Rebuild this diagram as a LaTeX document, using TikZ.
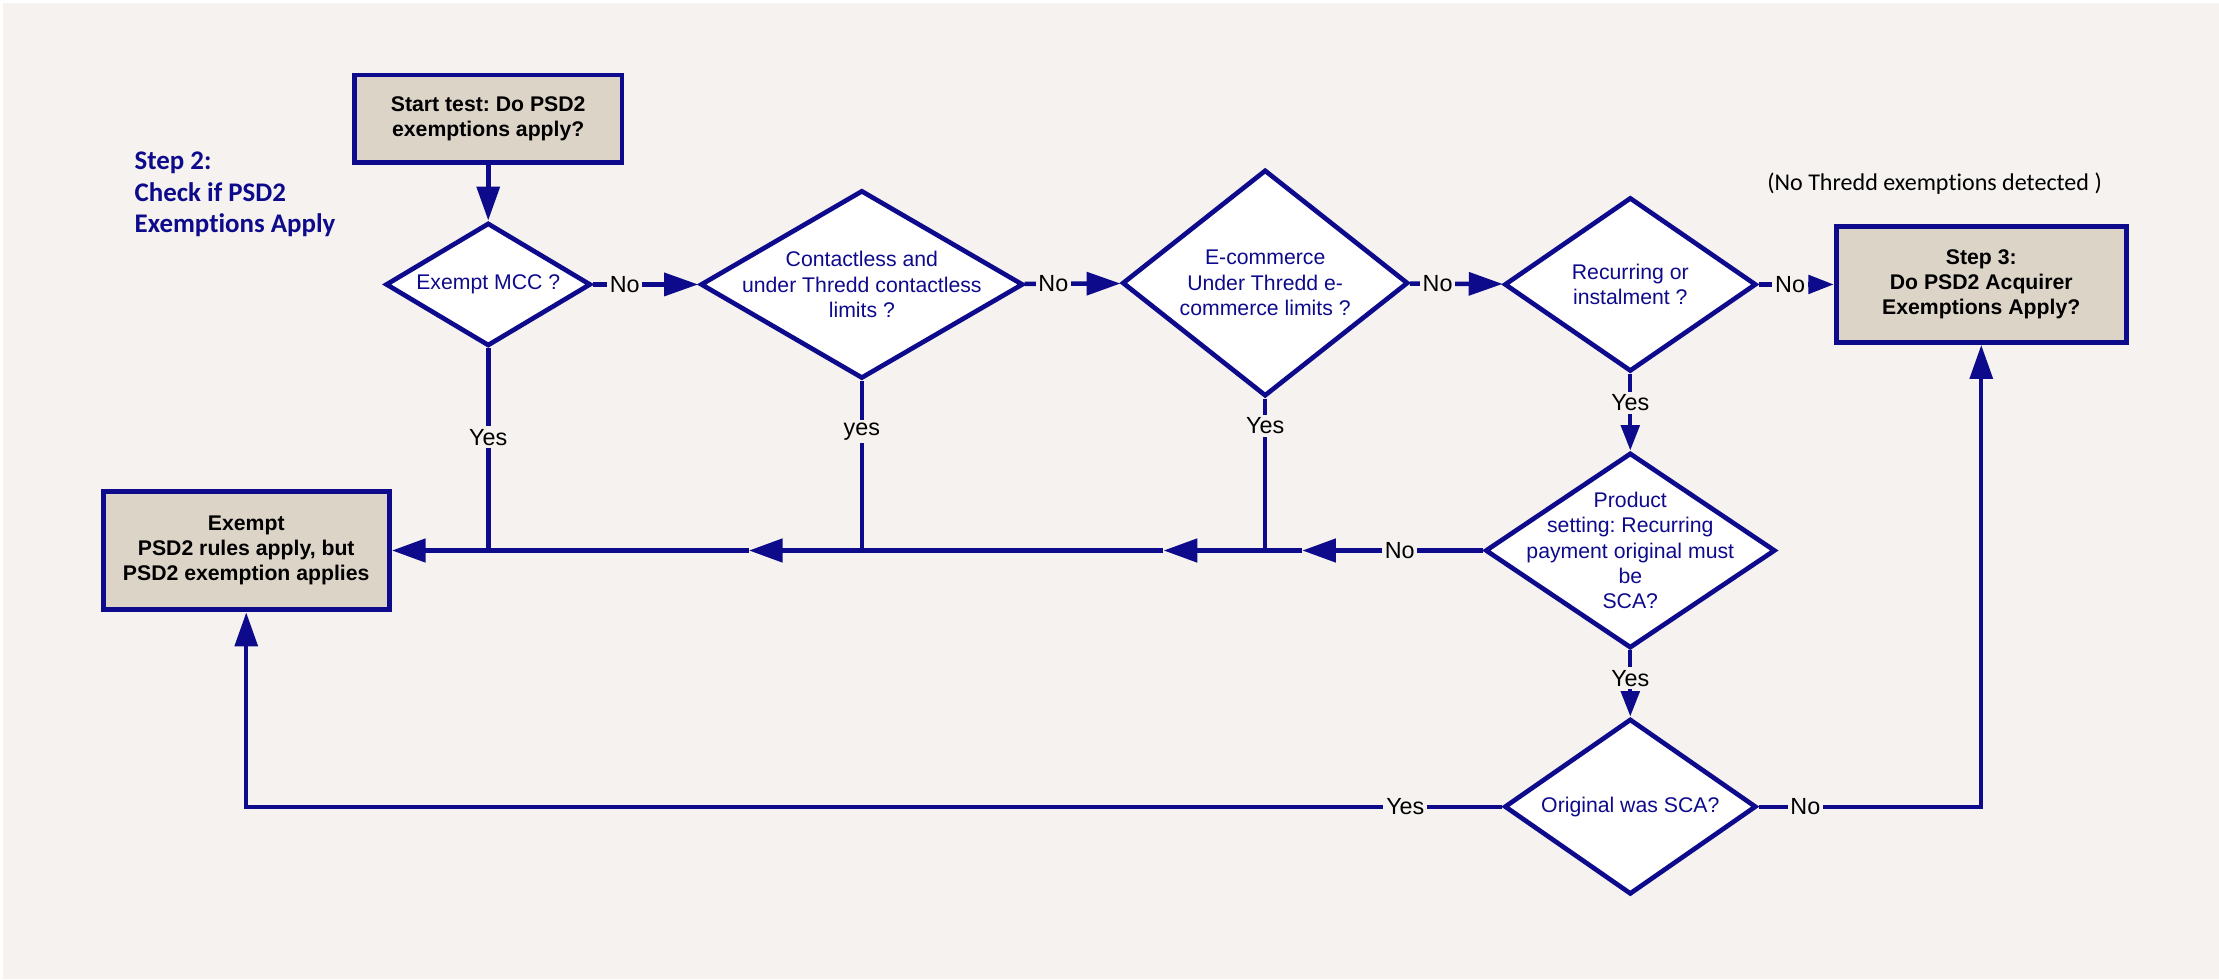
\documentclass[tikz,border=0pt]{standalone}
\usepackage{fontspec}
\setmainfont{Liberation Sans}
\newfontfamily\califont[Ligatures=NoCommon]{Carlito}
\usepackage{tikz}
\usetikzlibrary{shapes.geometric,arrows.meta,positioning}
\definecolor{navy}{RGB}{14,10,140}
\definecolor{boxfill}{RGB}{221,212,200}
\definecolor{bgcol}{RGB}{245,242,239}
\frenchspacing

\begin{document}
\begin{tikzpicture}[x=1pt, y=-1pt,
	box node/.style={rectangle,draw=navy,fill=boxfill,line width=3.5pt,inner sep=0pt,
		align=center,font=\fontsize{15}{17.8}\selectfont\bfseries},
	decision node/.style={diamond,draw=navy,fill=white,line width=3.3pt,inner sep=0pt},
	dtext/.style={align=center,text=navy,font=\fontsize{15}{17.9}\selectfont},
	flow/.style={draw=navy,line width=3.2pt,-{Triangle[length=24pt,width=16pt]}},
	main flow/.style={flow,line width=4pt},
	small flow/.style={draw=navy,line width=3pt,-{Triangle[length=18pt,width=13pt]}},
	yes line/.style={draw=navy,line width=3.2pt},
	lbl/.style={fill=bgcol,inner sep=2pt,font=\fontsize{16.5}{18}\selectfont}]
	
	\useasboundingbox (0,0) rectangle (1568,692);
	\fill[white] (0,0) rectangle (1568,692);
	\fill[bgcol] (2,2) rectangle (1568,692);
	
	% boxes
	\node[box node,minimum width=189pt,minimum height=62pt] (1) at (345,84) {Start test: Do PSD2\\exemptions apply?};
	\node[box node,minimum width=205pt,minimum height=82pt] (6) at (1400,201) {Step 3:\\Do PSD2 Acquirer\\Exemptions Apply?};
	\node[box node,minimum width=202pt,minimum height=84pt] (9) at (174,389) {Exempt\\PSD2 rules apply, but\\PSD2 exemption applies};
	
	% decisions
	\node[decision node,minimum width=145pt,minimum height=87pt,
		label={[dtext]center:Exempt MCC ?}] (2) at (345,201) {};
	\node[decision node,minimum width=228pt,minimum height=133pt,
		label={[dtext]center:{Contactless and\\under Thredd contactless\\limits ?}}] (3) at (609,201) {};
	\node[decision node,minimum width=202pt,minimum height=160pt,
		label={[dtext]center:{E-commerce\\Under Thredd e-\\commerce limits ?}}] (4) at (894,200) {};
	\node[decision node,minimum width=178pt,minimum height=123pt,
		label={[dtext]center:{Recurring or\\instalment ?}}] (5) at (1152,201) {};
	\node[decision node,minimum width=205pt,minimum height=138pt,
		label={[dtext]center:{Product\\setting: Recurring\\payment original must\\be\\SCA?}}] (7) at (1152,389) {};
	\node[decision node,minimum width=178pt,minimum height=124pt,
		label={[dtext]center:Original was SCA?}] (8) at (1152,570) {};
	
	% captions
	\node[anchor=north west,align=left,text=navy,inner sep=0pt,
		font=\califont\fontsize{19}{22.4}\selectfont\bfseries] (10) at (95,107) {Step 2:\\Check if PSD2\\Exemptions Apply};
	\node[font=\califont\fontsize{17}{19}\selectfont] (11) at (1367,130) {(No Thredd exemptions detected )};
	
	% main row
	\draw[flow] (1) -- (2);
	\draw[flow] (2) -- node[lbl,pos=0.3] {No} (3);
	\draw[flow] (3) -- node[lbl,pos=0.3] {No} (4);
	\draw[flow] (4) -- node[lbl,pos=0.3] {No} (5);
	\draw[small flow] (5) -- node[lbl,pos=0.42] {No} (6);
	
	% exempt line
	\coordinate (j2) at (2.south |- 9.east);
	\coordinate (j3) at (3.south |- 9.east);
	\coordinate (j4) at (4.south |- 9.east);
	\coordinate (m2) at (529,389);
	\coordinate (m3) at (822,389);
	\coordinate (m4) at (920,389);
	\draw[main flow] (7) -- node[lbl,pos=0.46] {No} (m4);
	\draw[main flow] (m4) -- (m3);
	\draw[main flow] (m3) -- (m2);
	\draw[main flow] (m2) -- (9);
	\draw[yes line] (2) -- node[lbl,pos=0.44] {Yes} (j2);
	\draw[yes line] (3) -- node[lbl,pos=0.3] {yes} (j3);
	\draw[yes line] (4) -- node[lbl,pos=0.18] {Yes} (j4);
	
	% recurring branch
	\draw[small flow] (5) -- node[lbl,pos=0.38] {Yes} (7);
	\draw[small flow] (7) -- node[lbl,pos=0.42] {Yes} (8);
	\draw[flow,line width=3pt] (8.west) -- node[lbl,pos=0.077] {Yes} (8.west -| 9.south) -- (9.south);
	\draw[flow,line width=3pt] (8.east) -- node[lbl,pos=0.21] {No} (8.east -| 6.south) -- (6.south);
\end{tikzpicture}
\end{document}
